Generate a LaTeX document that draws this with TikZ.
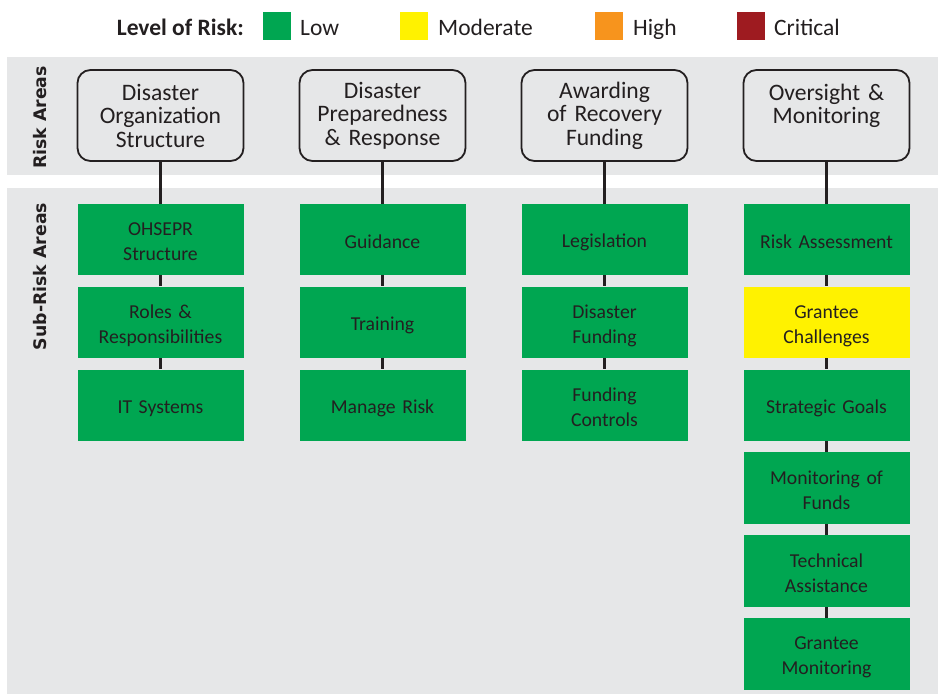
\documentclass[tikz,border=0pt]{standalone}
\usepackage{fontspec}
\setmainfont{Carlito}
\newfontfamily\sidefont{DejaVu Sans}
\definecolor{bandgray}{RGB}{230,231,232}
\definecolor{lowgreen}{RGB}{0,166,81}
\definecolor{modyellow}{RGB}{255,242,0}
\definecolor{highorange}{RGB}{247,148,29}
\definecolor{critred}{RGB}{158,27,32}
\definecolor{ink}{RGB}{35,31,32}
\begin{document}
\begin{tikzpicture}[x=1pt,y=-1pt,
  band/.style={fill=bandgray, draw=none},
  areabox/.style={draw=ink, line width=1.8pt, rounded corners=13pt, fill=bandgray,
    minimum width=166pt, minimum height=91pt, inner sep=0pt, align=center,
    text width=160pt, text=ink, font=\fontsize{23.6}{23.5}\selectfont},
  subbox/.style={fill=lowgreen, draw=none, minimum width=166pt, minimum height=71.5pt,
    inner sep=0pt, align=center, text width=160pt, text=ink,
    font=\fontsize{19.7}{25}\selectfont,
    execute at begin node={\rule{0pt}{20pt}},
    execute at end node={\rule[-3pt]{0pt}{3pt}}},
  modbox/.style={subbox, fill=modyellow},
  swatch/.style={minimum width=28pt, minimum height=28pt, inner sep=0pt, draw=none},
  legtext/.style={anchor=base west, inner sep=0pt, text=ink, font=\fontsize{23.5}{26}\selectfont},
  sidelabel/.style={rotate=90, inner sep=0pt, text=ink, font=\sidefont\bfseries\fontsize{17.3}{20}\selectfont},
  link/.style={draw=ink, line width=3.5pt}
]
\useasboundingbox (0,0) rectangle (942,694);
% bands
\path[band] (7,57) rectangle (938,175);
\path[band] (7,188) rectangle (938,694);
% legend
\node[legtext, anchor=base east, font=\bfseries\fontsize{23.5}{26}\selectfont] (legtitle) at (244,35) {Level of Risk:};
\node[swatch, fill=lowgreen] (swlow) at (277,26) {};
\node[legtext] (txlow) at (300,35) {Low};
\node[swatch, fill=modyellow] (swmod) at (414,26) {};
\node[legtext] (txmod) at (438,35) {Moderate};
\node[swatch, fill=highorange] (swhigh) at (609,26) {};
\node[legtext] (txhigh) at (633,35) {High};
\node[swatch, fill=critred] (swcrit) at (751,26) {};
\node[legtext] (txcrit) at (774,35) {Critical};
% side labels
\node[sidelabel] (lblrisk) at (40,117.5) {Risk Areas};
\node[sidelabel] (lblsub) at (40,276.5) {Sub-Risk Areas};
% risk areas
\node[areabox] (a1) at (160.5,115.5) {Disaster\\Organization\\Structure};
\node[areabox] (a2) at (382.5,115.5) {Disaster\\Preparedness\\\& Response};
\node[areabox] (a3) at (604.5,115.5) {Awarding\\of Recovery\\Funding};
\node[areabox] (a4) at (826.5,115.5) {Oversight \&\\Monitoring\\\mbox{}};
% column 1
\node[subbox] (s11) at (160.5,239.5) {OHSEPR\\Structure};
\node[subbox] (s12) at (160.5,322.4) {Roles \&\\Responsibilities};
\node[subbox] (s13) at (160.5,405.3) {IT Systems};
% column 2
\node[subbox] (s21) at (382.5,239.5) {Guidance};
\node[subbox] (s22) at (382.5,322.4) {Training};
\node[subbox] (s23) at (382.5,405.3) {Manage Risk};
% column 3
\node[subbox] (s31) at (604.5,239.5) {Legislation};
\node[subbox] (s32) at (604.5,322.4) {Disaster\\Funding};
\node[subbox] (s33) at (604.5,405.3) {Funding\\Controls};
% column 4
\node[subbox] (s41) at (826.5,239.5) {Risk Assessment};
\node[modbox] (s42) at (826.5,322.4) {Grantee\\Challenges};
\node[subbox] (s43) at (826.5,405.3) {Strategic Goals};
\node[subbox] (s44) at (826.5,488.2) {Monitoring of\\Funds};
\node[subbox] (s45) at (826.5,571.1) {Technical\\Assistance};
\node[subbox] (s46) at (826.5,654.0) {Grantee\\Monitoring};
% connectors
\draw[link] (a1.south) -- (s11.north);
\draw[link] (s11.south) -- (s12.north);
\draw[link] (s12.south) -- (s13.north);
\draw[link] (a2.south) -- (s21.north);
\draw[link] (s21.south) -- (s22.north);
\draw[link] (s22.south) -- (s23.north);
\draw[link] (a3.south) -- (s31.north);
\draw[link] (s31.south) -- (s32.north);
\draw[link] (s32.south) -- (s33.north);
\draw[link] (a4.south) -- (s41.north);
\draw[link] (s41.south) -- (s42.north);
\draw[link] (s42.south) -- (s43.north);
\draw[link] (s43.south) -- (s44.north);
\draw[link] (s44.south) -- (s45.north);
\draw[link] (s45.south) -- (s46.north);
\end{tikzpicture}
\end{document}
